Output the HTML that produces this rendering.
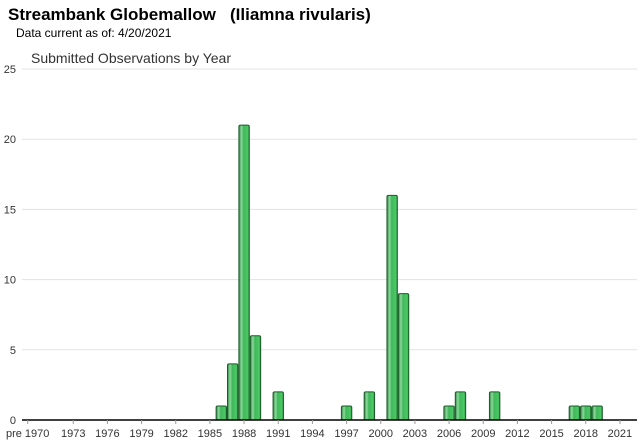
<!DOCTYPE html>
<html><head><meta charset="utf-8"><style>
body{margin:0;width:640px;height:442px;background:#fff;overflow:hidden;font-family:"Liberation Sans",Arial,sans-serif}
#title{position:absolute;left:8px;top:5px;font-size:17px;font-weight:bold;color:#000;white-space:pre}
#sub{position:absolute;left:16px;top:26px;font-size:12px;color:#000}
svg{position:absolute;left:0;top:0}
</style></head><body>
<div id="title">Streambank Globemallow   (Iliamna rivularis)</div>
<div id="sub">Data current as of: 4/20/2021</div>
<svg id="c" width="640" height="442">
<defs><linearGradient id="g" x1="0" x2="1" y1="0" y2="0">
<stop offset="0" stop-color="#2e8b45"/><stop offset="0.25" stop-color="#8fd89c"/><stop offset="0.45" stop-color="#3fb85a"/><stop offset="0.85" stop-color="#4cc866"/><stop offset="1" stop-color="#2a8a40"/></linearGradient></defs>
<text x="31" y="63" font-size="14" fill="#333">Submitted Observations by Year</text>
</svg>
<script>
const years=[1986,1987,1988,1989,1991,1997,1999,2001,2002,2006,2007,2010,2017,2018,2019];
const counts=[1,4,21,6,2,1,2,16,9,1,2,2,1,1,1];
const yTicks=[0,5,10,15,20,25];
const xLabels=["pre 1970","1973","1976","1979","1982","1985","1988","1991","1994","1997","2000","2003","2006","2009","2012","2015","2018","2021"];
const svg=document.getElementById('c'),NS='http://www.w3.org/2000/svg';
const x0=22,x1=637,y0=420,yTop=69,nCat=54,cw=(x1-x0)/nCat;
function idx(lbl){return lbl==="pre 1970"?0:(+lbl-1969);}
function xC(i){return x0+(i+0.5)*cw;}
function yS(v){return y0-(v/25)*(y0-yTop);}
function el(t,a){const e=document.createElementNS(NS,t);for(const k in a)e.setAttribute(k,a[k]);svg.appendChild(e);return e;}
yTicks.forEach(v=>{
 if(v>0){const l=el('line',{x1:x0,x2:x1,y1:yS(v),y2:yS(v),stroke:'#e3e3e3'});
 
 }
 const t=el('text',{x:16,y:yS(v)+4,'text-anchor':'end','font-size':11,fill:'#333'});t.textContent=v;
 
 
});
years.forEach((yr,k)=>{
 const i=yr-1969,w=cw-1;
 const r=el('rect',{x:xC(i)-w/2,y:yS(counts[k]),width:w,height:y0-yS(counts[k]),fill:'url(#g)',stroke:'#1d5a2a','stroke-width':1,rx:1.5});
 
 
});
const ax=el('line',{x1:x0,x2:x1,y1:y0,y2:y0,stroke:'#000','stroke-width':1.5});


xLabels.forEach(lb=>{
 const x=xC(idx(lb));
 const tk=el('line',{x1:x,x2:x,y1:y0,y2:y0+4,stroke:'#999'});
 
 
 const t=el('text',{x:x,y:y0+17,'text-anchor':'middle','font-size':11,fill:'#333'});t.textContent=lb;
 
 
});
</script>
</body></html>
